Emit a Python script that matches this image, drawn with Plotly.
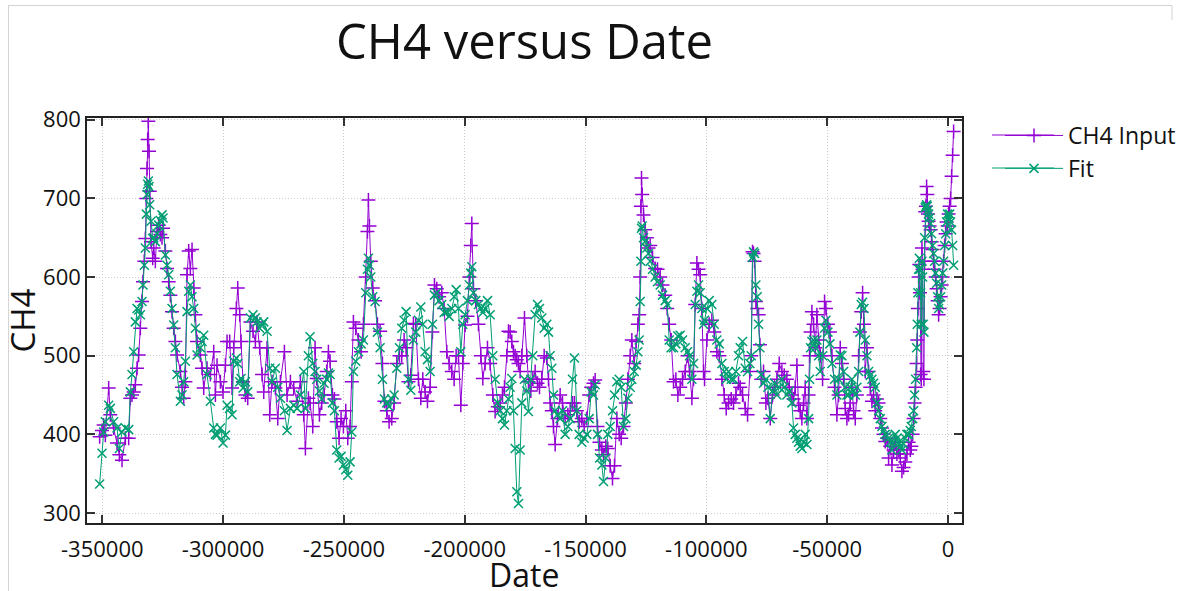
import plotly.graph_objects as go

# ---------------- data ----------------
dates = [
    -351090, -350120, -349430, -348740, -347360, -346670, -345290, -343910, -342940, -341840,
    -340460, -339080, -338390, -337700, -337010, -336320, -335630, -334940, -334250, -333560,
    -333150, -332600, -332180, -331770, -331490, -331220, -330940, -330670, -330390, -329840,
    -329140, -328730, -328040, -327350, -326660, -325970, -325280, -324860, -323900, -323210,
    -322520, -321830, -321140, -320450, -319760, -319070, -317690, -317000, -316310, -315620,
    -314930, -314240, -313550, -312860, -312170, -311480, -310790, -309410, -308720, -308030,
    -306650, -305270, -303890, -303200, -302510, -301130, -300030, -299060, -298370, -297270,
    -296300, -295610, -294510, -293950, -293130, -292570, -291750, -290780, -289810, -288710,
    -287610, -286640, -285950, -284850, -283880, -283190, -281810, -280710, -279740, -278360,
    -277390, -276290, -274630, -273530, -272150, -270770, -269390, -268010, -266630, -265940,
    -264700, -264010, -262900, -261940, -261250, -260140, -259180, -258210, -257110, -256420,
    -255730, -254760, -253930, -252970, -252000, -251170, -250210, -249240, -248410, -247450,
    -246760, -246070, -245100, -244000, -242890, -241930, -240960, -240270, -239860, -239440,
    -238890, -238060, -237100, -236130, -235030, -234060, -233230, -232270, -231300, -230200,
    -229230, -228130, -227020, -226060, -225090, -224260, -223300, -222330, -221230, -220260,
    -219160, -218190, -217360, -216400, -215430, -214330, -213360, -212530, -211570, -210600,
    -209500, -208530, -207430, -206460, -205360, -204390, -203560, -202600, -201630, -200800,
    -199840, -198870, -198040, -197490, -197080, -196390, -195420, -194320, -193350, -192520,
    -191560, -190590, -189490, -188380, -187420, -186320, -185350, -184380, -183550, -182590,
    -181900, -181210, -180520, -179830, -179140, -178450, -177760,
    -177070, -176380, -175270, -174310, -173620, -172650, -171820, -170860, -169890, -169060,
    -168100, -167130, -166030, -165340, -164650, -163960, -163270, -162580, -161610, -160510,
    -159540, -158440, -157330, -156370, -155400, -154580, -153610, -152640, -151540, -150570,
    -149470, -148500, -147670, -146700, -146020, -145050, -144220, -143260, -142570, -141600,
    -140780, -139810, -138840, -138010, -137050, -136080, -135250, -134290, -133320, -132490,
    -131530, -130840, -129870, -129040, -128350, -127800, -127390, -127110, -126840, -126560,
    -126010, -125320, -124630, -123940, -123250, -122280, -121180, -120210, -119110, -118140,
    -117040, -116210, -115380, -114560, -113590, -112620, -111800, -110830, -109860, -108760,
    -107790, -106960, -105990, -105310, -104620, -103930, -103240, -102550, -101860, -101170,
    -100750, -99790, -98820, -97720, -96760, -95650, -94680, -93580, -92610, -91780,
    -90820, -89710, -88750, -87780, -86680,
    -85990, -85020, -83920, -82950, -81990, -81430, -80880, -80470, -80060, -79500,
    -78950, -78400, -77850, -77300, -76330, -75360, -74540, -73570, -72600, -71770,
    -70810, -69840, -68740, -67770, -66670, -65700, -64600, -63910, -63220, -62530,
    -61840, -61150, -60460, -59770, -59080, -58390, -57700, -57290, -56870, -56320,
    -55630, -54940, -54250, -53560, -52870, -51900, -51080, -50520, -49700, -48870,
    -48040, -46940, -45970, -45280, -44590, -43900, -43210, -42520, -41830, -41140,
    -40450, -39760, -39070, -38380, -37690, -37000, -36450, -35900, -35340, -34790,
    -34240, -33550, -32860, -32170, -31480, -30790, -30100, -29410, -28720, -28030,
    -27340, -26650, -25960, -25270, -24580, -23890, -23200, -22510, -21820, -21130,
    -20440, -19750, -19060, -18370, -17680, -16990, -16300, -15610, -15200, -14640,
    -14230, -13810, -13400, -12990, -12710, -12440, -12160, -11880, -11610, -11330,
    -11060, -10780, -10500, -10230, -9950, -9670, -9400, -9120, -8850, -8570,
    -8300, -8020, -7610, -7190, -6780, -6370, -5950, -5540, -5120, -4710,
    -4290, -3880, -3470, -3050, -2640, -2220, -1810, -1390, -980, -570,
    -150, 260, 680, 1090, 1500, 1920, 2330,
]

ch4_input = [
    397, 405, 412, 399, 459, 425, 408, 389, 374, 367,
    395, 395, 446, 450, 454, 463, 484, 501, 535, 569,
    594, 620, 649, 700, 738, 775, 798, 760, 709, 645,
    624, 637, 620, 658, 666, 654, 650, 662, 633, 611,
    594, 577, 556, 535, 518, 501, 480, 460, 446, 467,
    603, 633, 611, 635, 586, 552, 518, 501, 484, 459,
    484, 476, 505, 450, 488, 467, 454, 488, 518, 518,
    459, 510, 560, 586, 552, 518, 467, 450, 446, 543,
    531, 518, 543, 510, 476, 454, 510, 425, 467, 459,
    420, 467, 505, 450, 467, 459, 442, 467, 425, 382,
    446, 440, 410, 510, 471, 425, 440, 450, 480, 505,
    493, 450, 445, 416, 395, 420, 410, 430, 395, 410,
    467, 543, 535, 520, 505, 540, 600, 658, 698, 665,
    620, 586, 570, 540, 531, 490, 442, 430, 416, 420,
    440, 490, 500, 500, 520, 510, 467, 475, 541, 540,
    470, 446, 470, 454, 442, 460, 530, 590, 585, 575,
    580, 560, 505, 490, 480, 470, 500, 500, 437, 490,
    539, 550, 600, 640, 668, 585, 570, 540, 500, 471,
    490, 510, 490, 450, 429, 435, 440, 450, 460, 500,
    531, 530, 518, 505, 500, 495, 490,
    480, 500, 548, 500, 467, 455, 470, 480, 465, 460,
    470, 500, 497, 470, 440, 430, 410, 387, 420, 450,
    440, 420, 425, 430, 440, 440, 430, 416, 420, 410,
    420, 450, 460, 465, 469, 410, 390, 380, 374, 385,
    382, 360, 344, 360, 420, 400, 395, 410, 440, 470,
    500, 520, 490, 518, 540, 552, 600, 690, 726, 705,
    679, 660, 650, 637, 640, 625, 611, 610, 600, 590,
    577, 560, 540, 520, 467, 470, 450, 460, 470, 480,
    500, 480, 446, 470, 565, 618, 610, 603, 560, 480,
    470, 520, 540, 545, 530, 505, 500, 470, 450, 433,
    440, 445, 440, 450, 465,
    460, 450, 433, 425, 480, 500, 632, 630, 620, 569,
    560, 552, 514, 470, 480, 440, 446, 420, 450, 460,
    470, 490, 480, 475, 470, 460, 450, 445, 460, 488,
    437, 430, 420, 440, 460, 420, 450, 500, 530, 556,
    540, 510, 552, 520, 500, 470, 569, 560, 540, 530,
    500, 460, 425, 450, 510, 490, 470, 433, 420, 425,
    440, 460, 430, 420, 450, 500, 530, 556, 580, 540,
    480, 510, 480, 460, 442, 450, 430, 445, 440, 420,
    408, 400, 391, 395, 370, 385, 361, 380, 390, 375,
    380, 370, 353, 358, 365, 375, 390, 380, 385, 400,
    420, 440, 460, 490, 520, 560, 600, 616, 580, 476,
    470, 637, 610, 480, 470, 620, 683, 690, 715, 705,
    680, 671, 665, 660, 645, 635, 620, 610, 600, 585,
    570, 552, 560, 575, 590, 600, 620, 640, 655, 670,
    665, 680, 690, 700, 728, 755, 785,
]

fit = [
    337, 376, 403, 416, 437, 433, 416, 408, 382, 403,
    408, 406, 454, 476, 505, 543, 560, 558, 552, 569,
    590, 615, 637, 680, 705, 718, 722, 715, 692, 671,
    649, 650, 645, 655, 666, 672, 679, 675, 628, 615,
    603, 582, 560, 539, 510, 476, 442, 450, 467, 493,
    556, 582, 590, 575, 560, 535, 501, 510, 518, 526,
    476, 442, 408, 400, 399, 408, 389, 399, 437, 433,
    425, 493, 497, 490, 467, 471, 459, 467, 454, 548,
    552, 548, 543, 535, 540, 543, 531, 484, 467, 484,
    460, 446, 430, 405, 433, 437, 433, 450, 480, 433,
    500, 524, 490, 480, 470, 455, 445, 465, 470, 478,
    476, 440, 430, 380, 370, 372, 361, 355, 348, 365,
    403, 480, 493, 505, 515, 520, 580, 610, 624, 615,
    600, 575, 569, 530, 510, 470, 445, 440, 435, 445,
    450, 484, 510, 535, 545, 556, 470, 456, 520, 530,
    545, 562, 540, 505, 495, 480, 540, 577, 580, 570,
    565, 555, 556, 550, 560, 575, 584, 560, 505, 540,
    552, 570, 590, 605, 613, 580, 570, 565, 560, 555,
    560, 570, 552, 500, 470, 440, 430, 420, 412, 430,
    445, 460, 471, 430, 382, 327, 312,
    380, 440, 470, 455, 429, 470, 500, 552, 565, 560,
    548, 535, 540, 530, 500, 484, 450, 430, 425, 420,
    430, 400, 410, 420, 470, 497, 430, 400, 390, 395,
    400, 420, 454, 450, 463, 400, 370, 361, 340, 370,
    400, 410, 430, 450, 467, 470, 460, 410, 420, 446,
    460, 470, 480, 488, 505, 520, 569, 620, 662, 665,
    650, 645, 637, 630, 620, 610, 600, 594, 590, 577,
    570, 565, 520, 510, 510, 515, 525, 526, 520, 510,
    505, 500, 470, 490, 565, 582, 590, 580, 560, 540,
    545, 560, 570, 565, 540, 520, 515, 490, 480, 470,
    480, 470, 470, 480, 500,
    510, 518, 484, 480, 490, 500, 625, 632, 630, 590,
    575, 540, 510, 476, 465, 470, 460, 420, 455, 465,
    450, 460, 470, 460, 450, 455, 440, 408, 400, 395,
    390, 385, 382, 390, 400, 387, 420, 470, 510, 518,
    520, 510, 520, 500, 480, 500, 535, 545, 530, 515,
    490, 470, 450, 470, 501, 500, 480, 460, 450, 450,
    460, 470, 455, 450, 460, 480, 530, 565, 568, 560,
    520, 500, 480, 475, 470, 465, 460, 440, 430, 420,
    410, 405, 400, 398, 395, 390, 380, 390, 400, 395,
    390, 385, 380, 388, 395, 400, 400, 405, 410, 420,
    430, 450, 470, 510, 540, 580, 610, 624, 610, 580,
    540, 620, 600, 540, 530, 650, 688, 690, 692, 690,
    685, 680, 675, 668, 655, 640, 630, 620, 605, 592,
    575, 560, 565, 575, 590, 605, 620, 640, 655, 670,
    680, 675, 680, 670, 660, 640, 615,
]

x_tick_vals = [-350000, -300000, -250000, -200000, -150000, -100000, -50000, 0]
x_tick_labels = ["-350000", "-300000", "-250000", "-200000", "-150000", "-100000", "-50000", "0"]
y_tick_vals = [300, 400, 500, 600, 700, 800]
y_tick_labels = ["300", "400", "500", "600", "700", "800"]

# ---------------- layout geometry (pixels) ----------------
W, H = 1186, 591
L, R, T, B = 87, 962, 118, 523


def px(x):
    return (x - L) / (R - L)


def py(y):
    return (B - y) / (B - T)


FONT = "Open Sans"
PURPLE = "#9400d3"
GREEN = "#009e73"

fig = go.Figure()
fig.add_trace(go.Scatter(
    x=dates, y=ch4_input, name="CH4 Input", mode="lines+markers",
    line=dict(color=PURPLE, width=1),
    marker=dict(symbol="cross-thin", size=10, line=dict(color=PURPLE, width=1.5), color=PURPLE),
))
fig.add_trace(go.Scatter(
    x=dates, y=fit, name="Fit", mode="lines+markers",
    line=dict(color=GREEN, width=1),
    marker=dict(symbol="x-thin", size=9, line=dict(color=GREEN, width=1.5), color=GREEN),
))

axis_common = dict(
    showgrid=True, gridcolor="#cccccc", gridwidth=1, griddash="1px,2px",
    ticks="inside", ticklen=8, tickwidth=1.5, tickcolor="#333333",
    showline=True, linecolor="#222222", linewidth=1.5, mirror="ticks",
    zeroline=False, tickfont=dict(family=FONT, size=22, color="#111111"),
)

# legend row centres (px) used to lengthen the sample lines as in the reference
LEG_ROWS = [135, 168]
leg_shapes = []
for yrow, col in zip(LEG_ROWS, [PURPLE, GREEN]):
    leg_shapes.append(dict(type="line", xref="paper", yref="paper",
                           x0=px(992), x1=px(1054), y0=py(yrow), y1=py(yrow),
                           line=dict(color=col, width=1)))

fig.update_layout(
    width=W, height=H,
    margin=dict(l=L, r=W - R, t=T, b=H - B, autoexpand=False),
    paper_bgcolor="white", plot_bgcolor="white",
    title=dict(text="CH4 versus Date", x=0.5, xref="paper", xanchor="center",
               y=1 - 42 / H, yref="container", yanchor="middle",
               font=dict(family=FONT, size=49, color="#111111")),
    xaxis=dict(range=[-356330, 5800], tickvals=x_tick_vals, ticktext=x_tick_labels,
               ticklabelstandoff=6, **axis_common),
    yaxis=dict(range=[287.3, 802.2], tickvals=y_tick_vals, ticktext=y_tick_labels,
               title=dict(text="CH4", font=dict(family=FONT, size=33, color="#111111"), standoff=0),
               **axis_common),
    legend=dict(x=px(1000), y=py(114), xanchor="left", yanchor="top",
                font=dict(family=FONT, size=23, color="#111111"),
                bgcolor="rgba(0,0,0,0)", itemwidth=58, tracegroupgap=0),
    showlegend=True,
    annotations=[
        dict(text="Date", xref="paper", yref="paper", x=px(524), y=py(574),
             xanchor="center", yanchor="middle", showarrow=False,
             font=dict(family=FONT, size=32, color="#111111")),
    ],
    shapes=[
        dict(type="line", xref="paper", yref="paper", x0=px(8), x1=px(1172), y0=py(5.5), y1=py(5.5),
             line=dict(color="#d4d4d4", width=1)),
        dict(type="line", xref="paper", yref="paper", x0=px(8.5), x1=px(8.5), y0=py(5.5), y1=py(591),
             line=dict(color="#d4d4d4", width=1)),
        dict(type="line", xref="paper", yref="paper", x0=px(1172), x1=px(1172), y0=py(5.5), y1=py(20),
             line=dict(color="#d4d4d4", width=1)),
    ] + leg_shapes,
)

fig.write_html("out.html")
